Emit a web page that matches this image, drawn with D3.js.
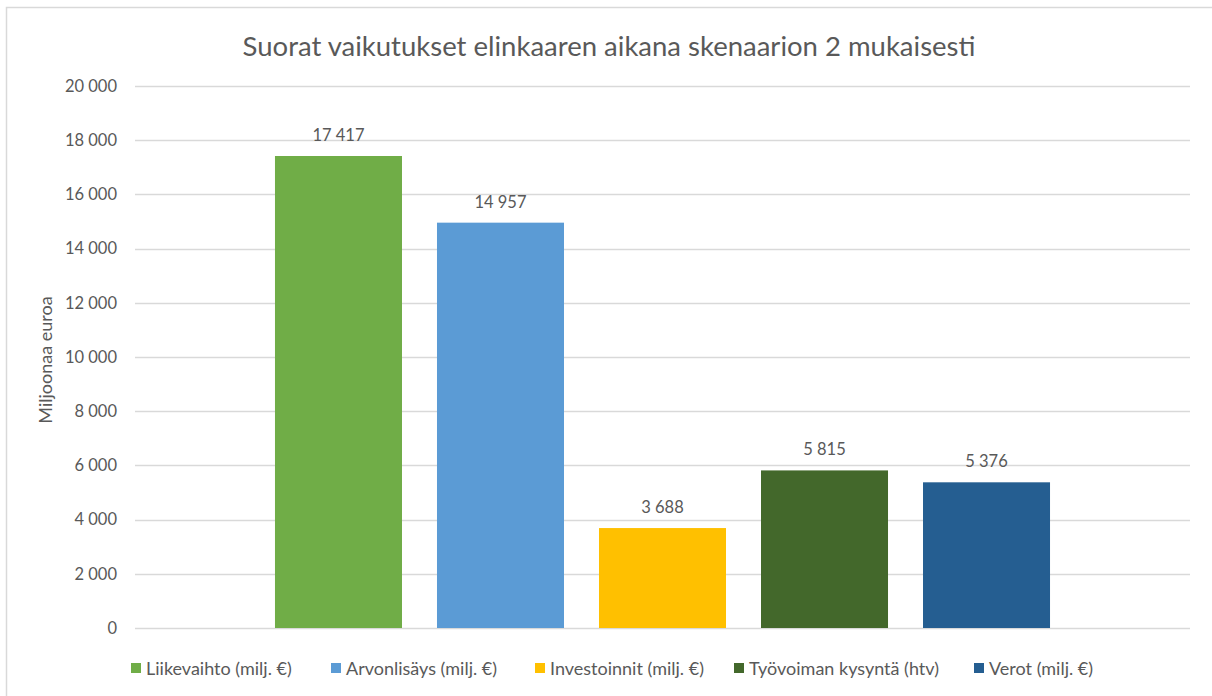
<!DOCTYPE html>
<html><head><meta charset="utf-8">
<script src="https://cdn.jsdelivr.net/npm/d3@7"></script>
<style>body{margin:0;background:#fff}text{font-family:Lato,"Open Sans",sans-serif;fill:#595959}</style>
</head><body>
<svg id="c" width="1212" height="696"></svg>
<script>
const title = "Suorat vaikutukset elinkaaren aikana skenaarion 2 mukaisesti";
const yTitle = "Miljoonaa euroa";
const series = ["Liikevaihto (milj. €)","Arvonlisäys (milj. €)","Investoinnit (milj. €)","Työvoiman kysyntä (htv)","Verot (milj. €)"];
const values = [17417, 14957, 3688, 5815, 5376];
const colors = ["#70AD47","#5B9BD5","#FFC000","#43682B","#255E91"];
const yTicks = [0,2000,4000,6000,8000,10000,12000,14000,16000,18000,20000];

const svg = d3.select("#c");
const fmt = v => d3.format(",")(v).replace(/,/g, " ");

svg.append("rect").attr("x",6.5).attr("y",7.5).attr("width",1210).attr("height",700)
  .attr("fill","#fff").attr("stroke","#d9d9d9").attr("stroke-width",1.5);

const x = d3.scaleBand().domain(series).range([135,1190]).paddingInner(0.216).paddingOuter(0.864);
const y = d3.scaleLinear().domain([0,20000]).range([628,86]);

const yAxis = d3.axisLeft(y).tickValues(yTicks).tickSize(0).tickPadding(0).tickFormat(fmt);
const g = svg.append("g").attr("transform","translate(117,0)").call(yAxis);
g.select(".domain").remove();
g.selectAll("text").attr("font-size",16.5).attr("fill","#595959").style("font-family","Lato");

svg.append("g").selectAll("line").data(yTicks).join("line")
  .attr("x1",135).attr("x2",1190).attr("y1",d=>Math.round(y(d))+0.5).attr("y2",d=>Math.round(y(d))+0.5)
  .attr("stroke","#d9d9d9").attr("stroke-width",1.3);

svg.append("g").selectAll("rect").data(series).join("rect")
  .attr("x",d=>x(d)).attr("width",x.bandwidth())
  .attr("y",(d,i)=>y(values[i])).attr("height",(d,i)=>y(0)-y(values[i]))
  .attr("fill",(d,i)=>colors[i]);

svg.append("g").selectAll("text").data(series).join("text")
  .attr("x",d=>x(d)+x.bandwidth()/2).attr("y",(d,i)=>y(values[i])-15)
  .attr("text-anchor","middle").attr("font-size",16.5).text((d,i)=>fmt(values[i]));

svg.append("text").attr("x",609).attr("y",56).attr("text-anchor","middle")
  .attr("font-size",27.5).text(title);

svg.append("text").attr("transform","translate(52,360) rotate(-90)").attr("text-anchor","middle")
  .attr("font-size",18).text(yTitle);

// legend layout (pixel offsets of each entry)
const legendX = [131,331,535,734,974];
const lg = svg.append("g");
series.forEach((s,i)=>{
  const it = lg.append("g").attr("transform",`translate(${legendX[i]},675)`);
  it.append("rect").attr("x",0).attr("y",-12).attr("width",10).attr("height",10).attr("fill",colors[i]);
  it.append("text").attr("x",15).attr("y",0).attr("font-size",18).text(s);
});
</script>
</body></html>
